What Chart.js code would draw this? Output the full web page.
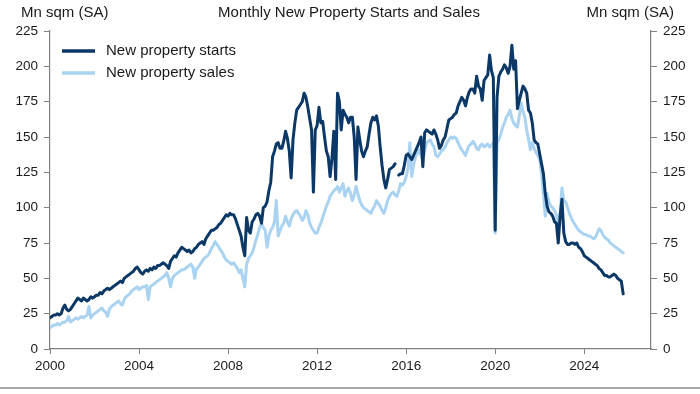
<!DOCTYPE html>
<html>
<head>
<meta charset="utf-8">
<script src="https://cdn.jsdelivr.net/npm/chart.js@4.4.1/dist/chart.umd.min.js"></script>
<style>
  html, body { margin: 0; padding: 0; background: #fff; }
  #wrap { width: 700px; height: 394px; }
</style>
</head>
<body>
<div id="wrap"><canvas id="chart" width="700" height="394"></canvas></div>
<script>
// Monthly series, Jan 2000 onwards (Mn sqm, SA)
const startYear = 2000;
const seriesNames = ['New property starts', 'New property sales'];
const starts = [
  22, 23, 24, 24, 25, 24, 25, 29, 31, 28, 27, 28,
  30, 32, 34, 36, 35, 34, 36, 35, 34, 35, 37, 36,
  37, 38, 38, 40, 39, 41, 42, 43, 42, 43, 44, 45,
  46, 47, 48, 47, 50, 51, 52, 53, 54, 55, 57, 58,
  56, 54, 53, 55, 56, 55, 57, 56, 58, 57, 59, 59,
  60, 61, 60, 59, 57, 62, 64, 66, 65, 68, 70, 72,
  71, 70, 69, 70, 68, 69, 71, 72, 74, 75, 76, 74,
  78, 80, 82, 84, 84, 85, 86, 88, 89, 91, 93, 95,
  94, 96, 95, 95, 92, 88, 84, 80, 72, 66, 93, 84,
  82, 90, 92, 95, 96, 94, 89, 100, 101, 104, 112, 118,
  136, 140, 145, 146, 142, 142, 147, 154, 149, 140, 121, 148,
  160, 169, 171, 173, 175, 181, 178, 171, 163, 155, 111, 155,
  158, 171, 160, 161, 150, 140, 136, 122, 135, 154, 120, 181,
  175, 155, 169, 166, 164, 160, 164, 164, 150, 120, 157, 148,
  140, 136, 140, 143, 152, 160, 164, 162, 165, 158, 143, 130,
  120, 114, 120, 127, 128, 129, 131, null, 123, 124, 124, 130,
  137, 138, 136, 134, 137, 140, 143, 146, 150, 129, 153, 155,
  154, 153, 152, 155, 152, 148, 142, 144, 148, 150, 156, 162,
  163, 164, 166, 167, 172, 175, 178, 176, 172, 178, 182, 184,
  184, 181, 193, 186, 184, 176, 190, 192, 194, 208, 197, 192,
  84, 178, 193, 196, 198, 201, 199, 195, 200, 215, 198, 204,
  170, 176, 181, 186, 184, 181, 169, 167, 160, 148, 146, 145,
  138, 131, 124, 110, 101, 97, 96, 94, 90, 89, 75, 94,
  106, 82, 76, 74, 74, 75, 75, 74, 75, 72, 71, 69,
  66, 65, 64, 63, 62, 61, 60, 59, 57, 56, 54, 52,
  52, 51, 51, 52, 53, 52, 50, 49, 48, 39
];
const sales = [
  15, 16, 17, 17, 18, 17, 18, 19, 19, 20, 23, 19,
  20, 21, 22, 21, 22, 23, 22, 23, 24, 30, 22, 24,
  25, 26, 27, 28, 29, 27, 26, 23, 28, 30, 31, 32,
  33, 34, 32, 31, 35, 37, 38, 39, 41, 42, 43, 44,
  42, 43, 44, 44, 45, 35, 44, 45, 46, 47, 48, 49,
  50, 51, 52, 54, 50, 44, 50, 52, 53, 54, 55, 56,
  56, 57, 58, 59, 60, 58, 50, 57, 58, 60, 62, 64,
  65, 66, 68, 71, 73, 76, 74, 72, 70, 68, 65, 63,
  62, 61, 60, 61, 59, 57, 54, 56, 50, 44, 60, 64,
  66, 68, 72, 77, 81, 86, 89, 86, 84, 72, 80, 84,
  86, 90, 105, 80, 84, 87, 89, 94, 90, 87, 92, 95,
  97, 98, 96, 94, 91, 93, 98, 95, 89, 86, 84, 82,
  82, 86, 89, 93, 97, 101, 104, 108, 110, 112, 113, 115,
  111, 114, 117, 108, 112, 114, 110, 105, 109, 115, 110, 105,
  102, 100, 99, 98, 97, 96, 99, 101, 105, 103, 101, 98,
  96, 100, 105, 108, 110, 111, 109, 108, 112, 117, 116, 118,
  122, 128, 146, 122, 130, 136, 138, 141, 137, 134, 140, 146,
  147, 148, 145, 143, 137, 136, 138, 140, 141, 143, 146, 148,
  150, 149, 150, 149, 146, 143, 141, 139, 137, 141, 144, 145,
  147, 145, 142, 141, 144, 145, 143, 144, 145, 143, 144, 146,
  82, 146, 148, 152, 157, 160, 164, 166, 169, 163, 160, 158,
  157, 165, 174, 168, 164, 155, 148, 141, 146, 142, 139, 137,
  134, 124, 110, 94, 110, 104, 101, 100, 98, 95, 89, 96,
  114, 105, 104, 100, 96, 93, 90, 88, 86, 84, 83, 82,
  81, 81, 80, 80, 79, 78, 79, 82, 85, 84, 81, 79,
  78, 77, 75, 74, 73, 72, 71, 70, 69, 68
];
const xTickYears = [2000, 2004, 2008, 2012, 2016, 2020, 2024];
const yTickValues = [0, 25, 50, 75, 100, 125, 150, 175, 200, 225];

const DARK = '#0b3866';
const LIGHT = '#a9d3f1';
const AXIS = '#808080';
const TEXT = '#1a1a1a';
const FONT = '"Liberation Sans", Arial, sans-serif';

function toPoints(values) {
    return values.map((v, i) => ({ x: startYear + i / 12, y: v }));
}

// titles, units, legend and the frame line at the bottom
const decorations = {
    id: 'decorations',
    afterDraw(chart) {
        const ctx = chart.ctx;
        ctx.save();
        ctx.fillStyle = TEXT;
        ctx.font = '15px ' + FONT;
        ctx.textBaseline = 'middle';
        ctx.textAlign = 'center';
        ctx.fillText('Monthly New Property Starts and Sales', 349, 13);
        ctx.textAlign = 'left';
        ctx.fillText('Mn sqm (SA)', 21, 13);
        ctx.textAlign = 'right';
        ctx.fillText('Mn sqm (SA)', 674, 13);

        // legend
        const rows = [[seriesNames[0], DARK, 51], [seriesNames[1], LIGHT, 73]];
        ctx.textAlign = 'left';
        rows.forEach(([label, color, y]) => {
            ctx.strokeStyle = color;
            ctx.lineWidth = 3.5;
            ctx.beginPath();
            ctx.moveTo(62, y);
            ctx.lineTo(95, y);
            ctx.stroke();
            ctx.fillStyle = TEXT;
            ctx.fillText(label, 106, y);
        });

        ctx.strokeStyle = '#8c8c8c';
        ctx.lineWidth = 1.5;
        ctx.beginPath();
        ctx.moveTo(0, 388);
        ctx.lineTo(700, 388);
        ctx.stroke();
        ctx.restore();
    }
};

function yAxis(position, width) {
    return {
        type: 'linear',
        position: position,
        min: 0,
        max: 225,
        afterBuildTicks: s => { s.ticks = yTickValues.map(v => ({ value: v })); },
        afterFit: s => { s.width = width; },
        grid: { drawOnChartArea: false, drawTicks: true, tickLength: 6, tickColor: AXIS },
        border: { display: true, color: AXIS, width: 1.2 },
        ticks: { color: TEXT, padding: 6, font: { family: FONT, size: 13.5 } }
    };
}

new Chart(document.getElementById('chart'), {
    type: 'line',
    data: {
        datasets: [
            { label: seriesNames[0], data: toPoints(starts), borderColor: DARK, yAxisID: 'y' },
            { label: seriesNames[1], data: toPoints(sales), borderColor: LIGHT, yAxisID: 'y' }
        ]
    },
    plugins: [decorations],
    options: {
        responsive: false,
        animation: false,
        devicePixelRatio: 1,
        layout: { padding: { top: 31, left: 0, right: 0, bottom: 0 } },
        elements: {
            point: { radius: 0 },
            line: { borderWidth: 3, tension: 0, borderJoinStyle: 'round', borderCapStyle: 'round' }
        },
        spanGaps: false,
        plugins: { legend: { display: false }, title: { display: false }, tooltip: { enabled: false } },
        scales: {
            x: {
                type: 'linear',
                min: 2000,
                max: 2027,
                afterBuildTicks: s => { s.ticks = xTickYears.map(v => ({ value: v })); },
                afterFit: s => { s.height = 45; },
                grid: { drawOnChartArea: false, drawTicks: true, tickLength: 5, tickColor: AXIS },
                border: { display: true, color: AXIS, width: 1.2 },
                ticks: {
                    color: TEXT,
                    padding: 4,
                    maxRotation: 0,
                    font: { family: FONT, size: 13.5 },
                    callback: v => String(v)
                }
            },
            y: yAxis('left', 50),
            y2: yAxis('right', 49)
        }
    }
});
</script>
</body>
</html>
